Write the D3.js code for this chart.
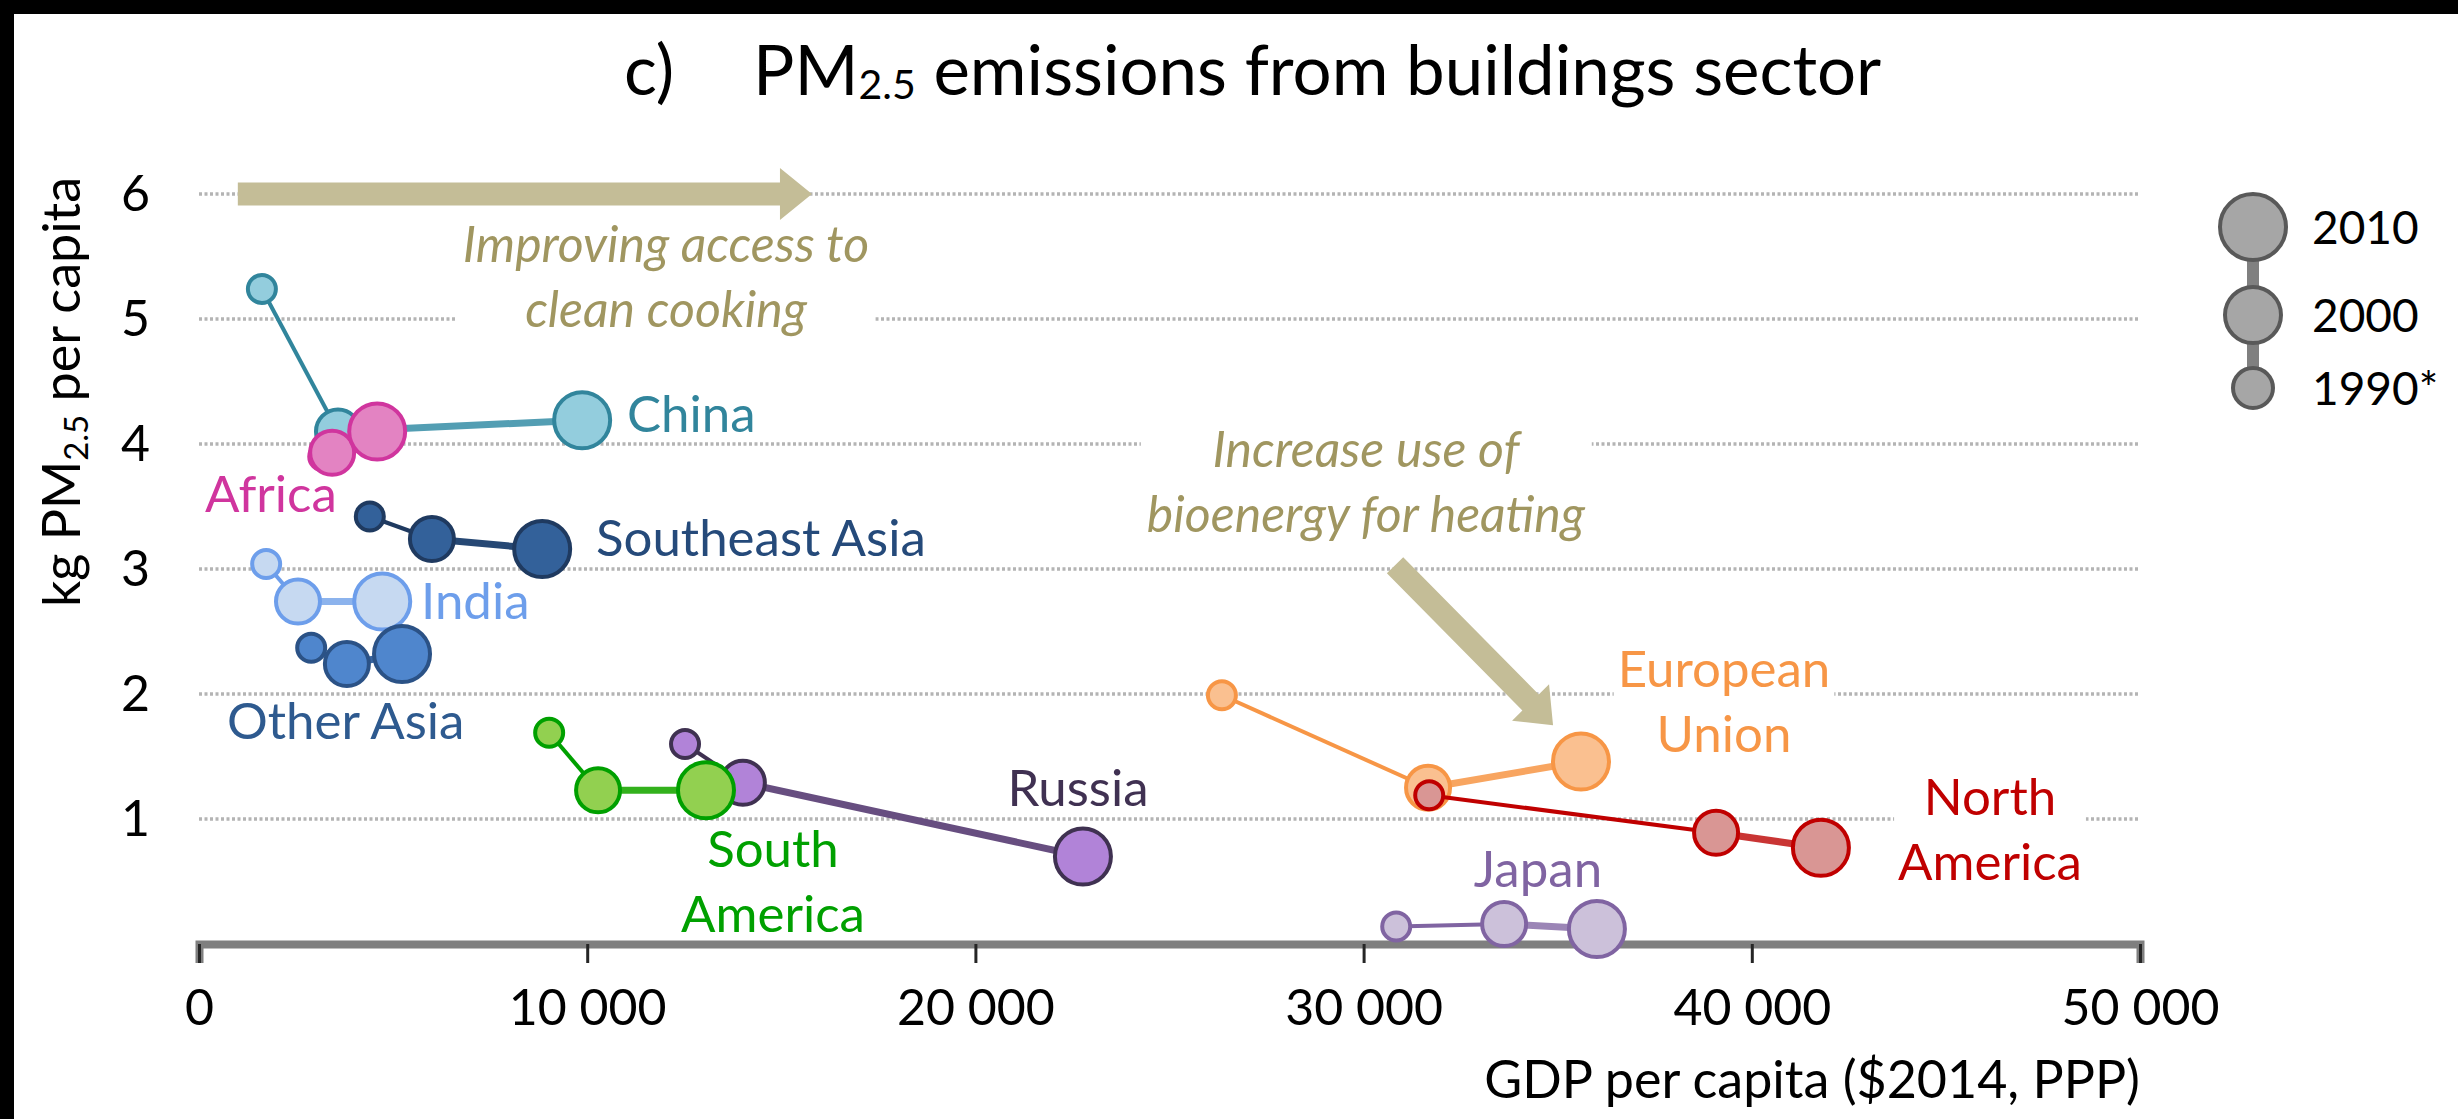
<!DOCTYPE html>
<html>
<head>
<meta charset="utf-8">
<script src="https://cdn.jsdelivr.net/npm/d3@7"></script>
<style>
  body { margin: 0; background: #000; }
  text { font-family: Lato, 'Open Sans', sans-serif; }
  .label { font-size: 51px; }
  .note { font-size: 50px; font-style: italic; fill: #a09660; }
  .axis text { font-size: 50px; fill: #000; font-family: Lato, sans-serif; }
</style>
</head>
<body>
<div id="chart"></div>
<script>
// canvas
var width = 2458, height = 1119;

// data: GDP per capita ($2014 PPP) and kg PM2.5 per capita
var regions = ['China', 'Africa', 'Southeast Asia', 'India', 'Other Asia', 'Russia', 'South America', 'Japan', 'European Union', 'North America'];
var years = ['1990', '2000', '2010'];
var gdp1990 = [1620, 3200, 4400, 1730, 2890, 12520, 9020, 30840, 26350, 31690];
var pm1990  = [5.24, 3.90, 3.42, 3.04, 2.37, 1.60, 1.69, 0.14, 1.99, 1.19];
var gdp2000 = [3580, 3430, 6000, 2550, 3810, 14010, 10280, 33620, 31660, 39080];
var pm2000  = [4.10, 3.93, 3.24, 2.74, 2.24, 1.29, 1.23, 0.16, 1.25, 0.89];
var gdp2010 = [9870, 4590, 8840, 4720, 5230, 22770, 13060, 36010, 35600, 41780];
var pm2010  = [4.19, 4.10, 3.16, 2.74, 2.32, 0.70, 1.23, 0.12, 1.46, 0.77];

var xTicks = [0, 10000, 20000, 30000, 40000, 50000];
var yTicks = [1, 2, 3, 4, 5, 6];
var legendLabels = ['2010', '2000', '1990*'];

// label text and where it sits (in data units)
var labelLines = [['China'], ['Africa'], ['Southeast Asia'], ['India'], ['Other Asia'], ['Russia'], ['South', 'America'], ['Japan'], ['European', 'Union'], ['North', 'America']];
var labelGdp = [11025, 155, 10227, 5719, 721, 22643, 14786, 34492, 39284, 46136];
var labelPm  = [4.10, 3.456, 3.104, 2.60, 1.64, 1.104, 0.616, 0.456, 2.056, 1.032];
var labelAnchor = ['start', 'start', 'start', 'start', 'start', 'middle', 'middle', 'middle', 'middle', 'middle'];
var labelBoxed = [false, false, false, false, false, false, false, false, true, true];

var noteLines = [['Improving access to', 'clean cooking'], ['Increase use of', 'bioenergy for heating']];
var noteGdp = [12030, 30060];
var notePm = [5.456, 3.816];
var arrowFrom = [[1000, 6], [30810, 3.03]];
var arrowTo = [[15790, 6], [34880, 1.75]];

// colours
var fillColors   = ['#93cddd', '#e383c2', '#33619a', '#c6d9f1', '#4f86cd', '#b183d8', '#92d050', '#ccc1da', '#fac090', '#d99694'];
var strokeColors = ['#31859c', '#d0359e', '#1f3a60', '#6d9eeb', '#2b5286', '#3f3151', '#00a000', '#8064a2', '#f79646', '#c00000'];
var labelColors  = ['#31859c', '#d0359e', '#254a7a', '#6d9eeb', '#2e5a8f', '#403152', '#00a000', '#8064a2', '#f79646', '#c00000'];
var radius = [14, 22, 28];
var lineHeight = 65;

var svg = d3.select('#chart')
    .append('svg')
    .attr('width', width)
    .attr('height', height);

svg.append('rect').attr('width', width).attr('height', height).attr('fill', '#000');
svg.append('rect').attr('x', 14).attr('y', 14).attr('width', width - 14).attr('height', height - 14).attr('fill', '#fff');

var xScale = d3.scaleLinear().domain([0, 50000]).range([199, 2140]);
var yScale = d3.scaleLinear().domain([0, 6]).range([944, 194]);

// grid
svg.selectAll('.grid')
    .data(yTicks)
    .enter()
    .append('line')
    .attr('class', 'grid')
    .attr('x1', xScale(0))
    .attr('x2', xScale(50000))
    .attr('y1', function(d){ return yScale(d); })
    .attr('y2', function(d){ return yScale(d); })
    .attr('stroke', '#b4b4b4')
    .attr('stroke-width', 3.5)
    .attr('stroke-dasharray', '3 2.5');

var boxLayer = svg.append('g');

// x axis
var xAxisG = svg.append('g')
    .attr('class', 'axis')
    .attr('transform', 'translate(0,' + yScale(0) + ')')
    .call(d3.axisBottom(xScale)
        .tickValues(xTicks)
        .tickSizeOuter(0)
        .tickSize(19)
        .tickPadding(26)
        .tickFormat(function(d){ return d3.format(',')(d).replace(',', ' '); }));
xAxisG.select('.domain').attr('stroke', '#7f7f7f').attr('stroke-width', 8);
xAxisG.selectAll('.tick line').attr('stroke', '#262626').attr('stroke-width', 3);

// y axis (labels only)
var yAxisG = svg.append('g')
    .attr('class', 'axis')
    .attr('transform', 'translate(' + xScale(0) + ',0)')
    .call(d3.axisLeft(yScale).tickValues(yTicks).tickSize(0).tickPadding(49).tickFormat(d3.format('d')));
yAxisG.select('.domain').remove();

// axis titles
svg.append('text')
    .attr('x', 2140)
    .attr('y', 1098)
    .attr('text-anchor', 'end')
    .style('font-size', '52px')
    .text('GDP per capita ($2014, PPP)');

var yTitle = svg.append('text')
    .attr('transform', 'translate(80,392) rotate(-90)')
    .attr('text-anchor', 'middle')
    .style('font-size', '52px');
yTitle.append('tspan').text('kg PM');
yTitle.append('tspan').attr('dy', 8).style('font-size', '33px').text('2.5');
yTitle.append('tspan').attr('dy', -8).text(' per capita');

// chart title
svg.append('text')
    .attr('x', 624)
    .attr('y', 95)
    .style('font-size', '69px')
    .text('c)');
var title = svg.append('text')
    .attr('x', 753)
    .attr('y', 95)
    .style('font-size', '69px');
title.append('tspan').text('PM');
title.append('tspan').attr('dy', 4).style('font-size', '41px').text('2.5');
title.append('tspan').attr('dy', -4).text(' emissions from buildings sector');

// annotation arrows
function arrowPoints(p1, p2, shaft, headW, headL){
    var x1 = xScale(p1[0]), y1 = yScale(p1[1]), x2 = xScale(p2[0]), y2 = yScale(p2[1]);
    var len = Math.sqrt((x2 - x1) * (x2 - x1) + (y2 - y1) * (y2 - y1));
    var ux = (x2 - x1) / len, uy = (y2 - y1) / len, nx = -uy, ny = ux;
    var bx = x2 - ux * headL, by = y2 - uy * headL;
    var pts = [
        [x1 + nx * shaft / 2, y1 + ny * shaft / 2],
        [bx + nx * shaft / 2, by + ny * shaft / 2],
        [bx + nx * headW / 2, by + ny * headW / 2],
        [x2, y2],
        [bx - nx * headW / 2, by - ny * headW / 2],
        [bx - nx * shaft / 2, by - ny * shaft / 2],
        [x1 - nx * shaft / 2, y1 - ny * shaft / 2]
    ];
    return pts.map(function(p){ return p.join(','); }).join(' ');
}

svg.selectAll('.arrow')
    .data(arrowFrom)
    .enter()
    .append('polygon')
    .attr('class', 'arrow')
    .attr('points', function(d, i){ return arrowPoints(d, arrowTo[i], 23, 52, 32); })
    .attr('fill', '#c4bd97');

// annotation texts
var notes = svg.selectAll('.note')
    .data(noteLines)
    .enter()
    .append('text')
    .attr('class', 'note')
    .attr('text-anchor', 'middle')
    .attr('x', function(d, i){ return xScale(noteGdp[i]); })
    .attr('y', function(d, i){ return yScale(notePm[i]); });
notes.each(function(d, i){
    var t = d3.select(this);
    d.forEach(function(line, j){
        t.append('tspan')
            .attr('x', xScale(noteGdp[i]))
            .attr('dy', j === 0 ? 0 : lineHeight)
            .text(line);
    });
    var b = this.getBBox();
    boxLayer.append('rect')
        .attr('x', b.x - 6).attr('y', b.y - 4)
        .attr('width', b.width + 12).attr('height', b.height + 8)
        .attr('fill', '#fff');
});

// series: connecting lines then circles
regions.forEach(function(name, i){
    var pts = [[gdp1990[i], pm1990[i]], [gdp2000[i], pm2000[i]], [gdp2010[i], pm2010[i]]];
    var g = svg.append('g').attr('class', 'series');

    g.append('line')
        .attr('x1', xScale(pts[0][0])).attr('y1', yScale(pts[0][1]))
        .attr('x2', xScale(pts[1][0])).attr('y2', yScale(pts[1][1]))
        .attr('stroke', strokeColors[i])
        .attr('stroke-width', 4);

    g.append('line')
        .attr('x1', xScale(pts[1][0])).attr('y1', yScale(pts[1][1]))
        .attr('x2', xScale(pts[2][0])).attr('y2', yScale(pts[2][1]))
        .attr('stroke', d3.interpolateRgb(strokeColors[i], fillColors[i])(0.35))
        .attr('stroke-width', 7);

    g.selectAll('circle')
        .data(pts)
        .enter()
        .append('circle')
        .attr('cx', function(d){ return xScale(d[0]); })
        .attr('cy', function(d){ return yScale(d[1]); })
        .attr('r', function(d, j){ return radius[j]; })
        .attr('fill', fillColors[i])
        .attr('stroke', strokeColors[i])
        .attr('stroke-width', 4);
});

// region labels
var labels = svg.selectAll('.label')
    .data(labelLines)
    .enter()
    .append('text')
    .attr('class', 'label')
    .attr('text-anchor', function(d, i){ return labelAnchor[i]; })
    .attr('fill', function(d, i){ return labelColors[i]; })
    .attr('y', function(d, i){ return yScale(labelPm[i]); });
labels.each(function(d, i){
    var t = d3.select(this);
    d.forEach(function(line, j){
        t.append('tspan')
            .attr('x', xScale(labelGdp[i]))
            .attr('dy', j === 0 ? 0 : lineHeight)
            .text(line);
    });
    if (labelBoxed[i]) {
        var b = this.getBBox();
        boxLayer.append('rect')
            .attr('x', b.x - 4).attr('y', b.y)
            .attr('width', b.width + 8).attr('height', b.height + 4)
            .attr('fill', '#fff');
    }
});

// legend
var legendX = 2253, legendY = [227, 315, 388], legendR = [33, 28, 20];
svg.append('line')
    .attr('x1', legendX).attr('x2', legendX)
    .attr('y1', legendY[0]).attr('y2', legendY[2])
    .attr('stroke', '#808080')
    .attr('stroke-width', 12);
svg.selectAll('.legendDot')
    .data(legendLabels)
    .enter()
    .append('circle')
    .attr('class', 'legendDot')
    .attr('cx', legendX)
    .attr('cy', function(d, i){ return legendY[i]; })
    .attr('r', function(d, i){ return legendR[i]; })
    .attr('fill', '#a6a6a6')
    .attr('stroke', '#595959')
    .attr('stroke-width', 4);
svg.selectAll('.legendText')
    .data(legendLabels)
    .enter()
    .append('text')
    .attr('class', 'legendText')
    .attr('x', 2312)
    .attr('y', function(d, i){ return legendY[i]; })
    .attr('dy', '0.36em')
    .style('font-size', '46px')
    .text(function(d){ return d; });
</script>
</body>
</html>
